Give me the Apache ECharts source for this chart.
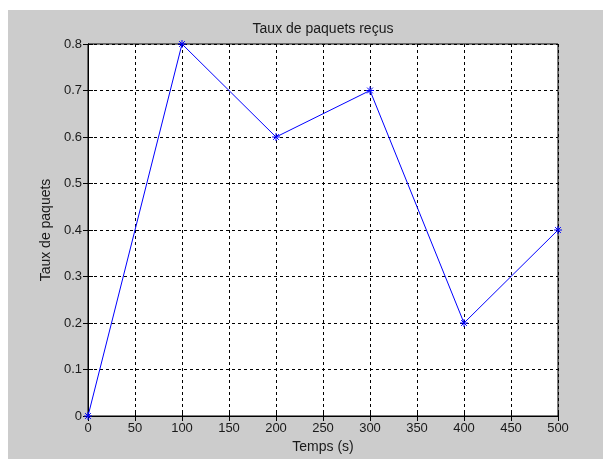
<!DOCTYPE html>
<html>
<head>
<meta charset="utf-8">
<script src="https://cdn.jsdelivr.net/npm/echarts@6/dist/echarts.min.js"></script>
<style>
html,body{margin:0;padding:0;background:#fff;width:603px;height:459px;overflow:hidden;}
#c{position:absolute;left:8px;top:10px;width:595px;height:449px;}
</style>
</head>
<body>
<div id="c"></div>
<script>
var timeValues = [0, 100, 200, 300, 400, 500];
var rateValues = [0, 0.8, 0.6, 0.7, 0.2, 0.4];
var chartTitle = 'Taux de paquets reçus';
var xName = 'Temps (s)';
var yName = 'Taux de paquets';

var chart = echarts.init(document.getElementById('c'));
var font = 'Liberation Sans, Arial, sans-serif';
var txt = '#1a1a1a';
var gridLine = {show: true, lineStyle: {color: '#000', width: 1, type: [3, 3]}};
var tick = {show: true, inside: true, length: 5, lineStyle: {color: '#000'}};
var series = [{
  type: 'line',
  data: timeValues.map(function (t, i) { return [t, rateValues[i]]; }),
  lineStyle: {color: '#0000ff', width: 1},
  symbol: 'path://M0,-5L0,5M-5,0L5,0M-3.6,-3.6L3.6,3.6M-3.6,3.6L3.6,-3.6',
  symbolSize: 8,
  showSymbol: true,
  itemStyle: {color: 'rgba(0,0,0,0)', borderColor: '#0000ff', borderWidth: 1},
  animation: false,
  clip: false
}];
chart.setOption({
  backgroundColor: '#cccccc',
  animation: false,
  grid: {left: 80, right: 45, top: 34, bottom: 43, show: true, backgroundColor: '#fff', borderColor: '#000', borderWidth: 1},
  xAxis: [{
    type: 'value', min: 0, max: 500, interval: 50, position: 'bottom',
    name: xName, nameLocation: 'middle', nameGap: 24,
    nameTextStyle: {fontFamily: font, fontSize: 14, color: txt},
    axisLine: {show: true, lineStyle: {color: '#000'}},
    axisTick: tick, splitLine: gridLine,
    axisLabel: {fontFamily: font, fontSize: 13, color: txt, margin: 6}
  }, {
    type: 'value', min: 0, max: 500, interval: 50, position: 'top',
    name: chartTitle, nameLocation: 'middle', nameGap: 8,
    nameTextStyle: {fontFamily: font, fontSize: 14, color: txt},
    axisLine: {show: true, lineStyle: {color: '#000'}},
    axisTick: tick, splitLine: {show: false}, axisLabel: {show: false}
  }],
  yAxis: [{
    type: 'value', min: 0, max: 0.8, interval: 0.1, position: 'left',
    name: yName, nameLocation: 'middle', nameGap: 33,
    nameTextStyle: {fontFamily: font, fontSize: 14, color: txt},
    axisLine: {show: true, lineStyle: {color: '#000'}},
    axisTick: tick, splitLine: gridLine,
    axisLabel: {fontFamily: font, fontSize: 13, color: txt, margin: 6}
  }, {
    type: 'value', min: 0, max: 0.8, interval: 0.1, position: 'right',
    axisLine: {show: true, lineStyle: {color: '#000'}},
    axisTick: tick, splitLine: {show: false}, axisLabel: {show: false}
  }],
  series: series
});
</script>
</body>
</html>
